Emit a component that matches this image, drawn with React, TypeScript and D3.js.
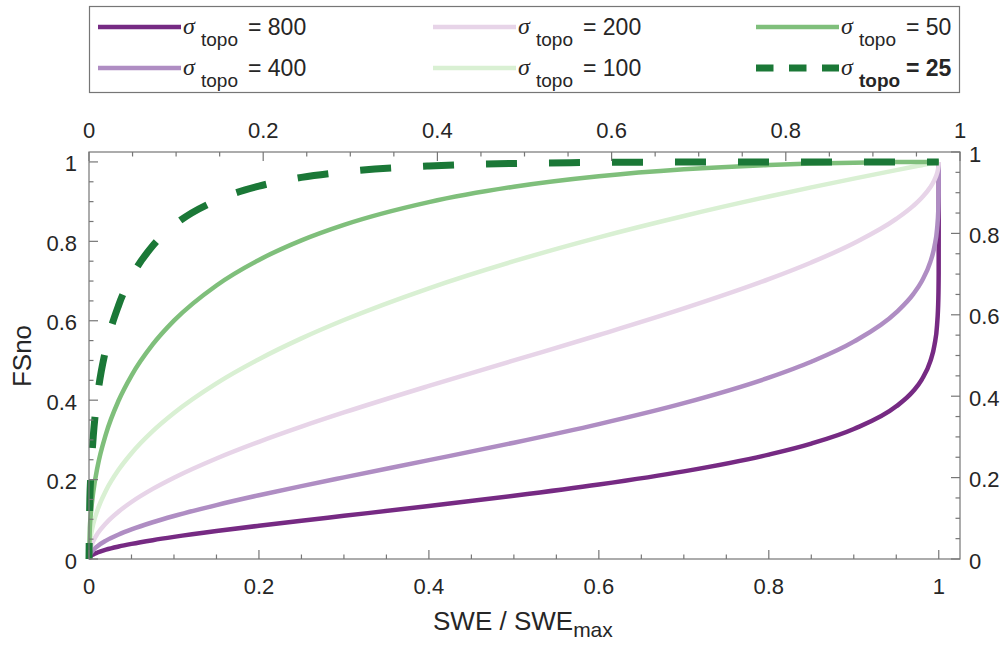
import React from "react";
import * as d3 from "d3";

// SWE / SWEmax sample positions
const sweRatio = [0, 0.001, 0.002, 0.005, 0.01, 0.02, 0.035, 0.05, 0.075, 0.1, 0.15, 0.2, 0.25, 0.3, 0.4, 0.5, 0.6, 0.7, 0.8, 0.85, 0.9, 0.95, 0.97, 0.98, 0.99, 0.995, 0.998, 0.9995, 0.9999, 1];

// FSno for each sigma_topo
const fsno800 = [0, 0.0051, 0.0072, 0.0115, 0.0163, 0.0234, 0.0314, 0.038, 0.0474, 0.0557, 0.0704, 0.0837, 0.0964, 0.1087, 0.1334, 0.1591, 0.1874, 0.2206, 0.2629, 0.2906, 0.3273, 0.3844, 0.423, 0.4518, 0.4975, 0.5393, 0.5892, 0.6546, 0.7175, 1];
const fsno400 = [0, 0.0101, 0.0143, 0.0228, 0.0324, 0.0462, 0.0618, 0.0746, 0.0926, 0.1083, 0.1358, 0.1605, 0.1835, 0.2056, 0.2489, 0.2929, 0.3398, 0.3925, 0.4567, 0.4968, 0.5474, 0.6211, 0.6671, 0.6994, 0.7475, 0.7878, 0.8313, 0.8807, 0.92, 1];
const fsno200 = [0, 0.0201, 0.0285, 0.045, 0.0638, 0.0903, 0.1198, 0.1436, 0.1766, 0.2048, 0.2532, 0.2952, 0.3333, 0.369, 0.4359, 0.5, 0.5641, 0.631, 0.7048, 0.7468, 0.7952, 0.8564, 0.8892, 0.9097, 0.9362, 0.955, 0.9715, 0.9858, 0.9936, 1];
const fsno100 = [0, 0.0399, 0.0561, 0.0881, 0.1235, 0.1725, 0.2253, 0.2665, 0.322, 0.3677, 0.4423, 0.5032, 0.5556, 0.6018, 0.6818, 0.75, 0.81, 0.8638, 0.9129, 0.9359, 0.958, 0.9794, 0.9877, 0.9918, 0.9959, 0.998, 0.9992, 0.9998, 1, 1];
const fsno50 = [0, 0.0782, 0.1091, 0.1684, 0.2317, 0.3152, 0.3998, 0.462, 0.5403, 0.6002, 0.6889, 0.7532, 0.8025, 0.8415, 0.8988, 0.9375, 0.9639, 0.9815, 0.9924, 0.9959, 0.9982, 0.9996, 0.9998, 1, 1, 1, 1, 1, 1, 1];
const fsno25 = [0, 0.1502, 0.2063, 0.3084, 0.4097, 0.5311, 0.6398, 0.7106, 0.7887, 0.8402, 0.9032, 0.9391, 0.961, 0.9749, 0.9897, 0.9961, 0.9987, 0.9997, 1, 1, 1, 1, 1, 1, 1, 1, 1, 1, 1, 1];

const sigmaLabels = ["800", "400", "200", "100", "50", "25"];
const seriesColors = ["#762a83", "#af8dc3", "#e7d4e8", "#d9f0d3", "#7fbf7b", "#1b7837"];
const seriesValues = [fsno800, fsno400, fsno200, fsno100, fsno50, fsno25];

const majorTicks = [0, 0.2, 0.4, 0.6, 0.8, 1];
const majorTickLabels = ["0", "0.2", "0.4", "0.6", "0.8", "1"];
const minorTicks = [0.05, 0.1, 0.15, 0.25, 0.3, 0.35, 0.45, 0.5, 0.55, 0.65, 0.7, 0.75, 0.85, 0.9, 0.95];

const W = 1005;
const H = 646;
const L = 89, R = 960, T = 152, B = 559;
const FONT = "'Liberation Sans', Arial, Helvetica, sans-serif";
const AXC = "#767676";
const TXC = "#262626";

export default function App() {
  const x = d3.scaleLinear().domain([0, 1.025]).range([L, R]);
  const y = d3.scaleLinear().domain([0, 1.025]).range([B, T]);
  const xTop = d3.scaleLinear().domain([0, 1]).range([L, R]);
  const yRight = d3.scaleLinear().domain([0, 1]).range([B, T]);

  const line = d3
    .line<number>()
    .x((_, i) => x(sweRatio[i]))
    .y((d) => y(d))
    .curve(d3.curveMonotoneX);

  const MAJ = 9, MIN = 4.5;

  // legend layout
  const legCols = [98, 433, 756];
  const legRows = [27, 68];
  const legOrder = [
    { i: 0, c: 0, r: 0 },
    { i: 1, c: 0, r: 1 },
    { i: 2, c: 1, r: 0 },
    { i: 3, c: 1, r: 1 },
    { i: 4, c: 2, r: 0 },
    { i: 5, c: 2, r: 1 },
  ];

  return (
    <svg
      width={W}
      height={H}
      style={{ position: "absolute", left: 0, top: 0, background: "#fff" }}
      fontFamily={FONT}
    >
      <rect x={0} y={0} width={W} height={H} fill="#fff" />

      {/* Legend */}
      <rect x={89.5} y={6.5} width={870} height={86} fill="#fff" stroke={AXC} strokeWidth={1.2} />
      {legOrder.map(({ i, c, r }) => {
        const x0 = legCols[c];
        const yy = legRows[r];
        const bold = i === 5;
        return (
          <g key={"leg" + i}>
            <line
              x1={x0}
              x2={x0 + 83}
              y1={yy}
              y2={yy}
              stroke={seriesColors[i]}
              strokeWidth={i === 5 ? 7 : 4.5}
              strokeDasharray={i === 5 ? "17.5 15.5" : undefined}
            />
            <text
              x={x0 + 85}
              y={yy + 7}
              fontFamily="'Liberation Serif', 'Times New Roman', serif"
              fontStyle="italic"
              fontSize={24}
              fill={TXC}
            >
              σ
            </text>
            <text x={x0 + 103} y={yy + 19} fontSize={19} fill={TXC} fontWeight={bold ? "bold" : "normal"}>
              topo
            </text>
            <text x={x0 + 150} y={yy + 8} fontSize={23} fill={TXC} fontWeight={bold ? "bold" : "normal"}>
              {"= " + sigmaLabels[i]}
            </text>
          </g>
        );
      })}

      {/* Curves */}
      {seriesValues.map((vals, i) => (
        <path
          key={"s" + i}
          d={line(vals) || ""}
          fill="none"
          stroke={seriesColors[i]}
          strokeWidth={i === 5 ? 7 : 4.5}
          strokeDasharray={i === 5 ? "31 32" : undefined}
          strokeDashoffset={i === 5 ? 15 : undefined}
          strokeLinejoin="round"
        />
      ))}

      {/* Axes box */}
      <rect x={L} y={T} width={R - L} height={B - T} fill="none" stroke={AXC} strokeWidth={1.2} />

      {/* Bottom axis ticks */}
      {majorTicks.map((t) => (
        <line key={"bM" + t} x1={x(t)} x2={x(t)} y1={B} y2={B - MAJ} stroke={AXC} strokeWidth={1.2} />
      ))}
      {minorTicks.map((t) => (
        <line key={"bm" + t} x1={x(t)} x2={x(t)} y1={B} y2={B - MIN} stroke={AXC} strokeWidth={1.2} />
      ))}
      {majorTicks.map((t, k) => (
        <text key={"bl" + t} x={x(t)} y={594} textAnchor="middle" fontSize={22} fill={TXC}>
          {majorTickLabels[k]}
        </text>
      ))}

      {/* Left axis ticks */}
      {majorTicks.map((t) => (
        <line key={"lM" + t} x1={L} x2={L + MAJ} y1={y(t)} y2={y(t)} stroke={AXC} strokeWidth={1.2} />
      ))}
      {minorTicks.map((t) => (
        <line key={"lm" + t} x1={L} x2={L + MIN} y1={y(t)} y2={y(t)} stroke={AXC} strokeWidth={1.2} />
      ))}
      {majorTicks.map((t, k) => (
        <text key={"ll" + t} x={77} y={y(t) + 9.5} textAnchor="end" fontSize={22} fill={TXC}>
          {majorTickLabels[k]}
        </text>
      ))}

      {/* Top axis ticks */}
      {majorTicks.map((t) => (
        <line key={"tM" + t} x1={xTop(t)} x2={xTop(t)} y1={T} y2={T + MAJ} stroke={AXC} strokeWidth={1.2} />
      ))}
      {minorTicks.map((t) => (
        <line key={"tm" + t} x1={xTop(t)} x2={xTop(t)} y1={T} y2={T + MIN} stroke={AXC} strokeWidth={1.2} />
      ))}
      {majorTicks.map((t, k) => (
        <text key={"tl" + t} x={xTop(t)} y={138} textAnchor="middle" fontSize={22} fill={TXC}>
          {majorTickLabels[k]}
        </text>
      ))}

      {/* Right axis ticks */}
      {majorTicks.map((t) => (
        <line key={"rM" + t} x1={R} x2={R - MAJ} y1={yRight(t)} y2={yRight(t)} stroke={AXC} strokeWidth={1.2} />
      ))}
      {minorTicks.map((t) => (
        <line key={"rm" + t} x1={R} x2={R - MIN} y1={yRight(t)} y2={yRight(t)} stroke={AXC} strokeWidth={1.2} />
      ))}
      {majorTicks.map((t, k) => (
        <text key={"rl" + t} x={969} y={yRight(t) + 9.5} textAnchor="start" fontSize={22} fill={TXC}>
          {majorTickLabels[k]}
        </text>
      ))}

      {/* Axis labels */}
      <text x={433} y={630} fontSize={26} fill={TXC}>
        SWE / SWE
        <tspan fontSize={21} dy={7}>
          max
        </tspan>
      </text>
      <text
        transform="translate(31,356) rotate(-90)"
        textAnchor="middle"
        fontSize={26}
        fill={TXC}
      >
        FSno
      </text>
    </svg>
  );
}
